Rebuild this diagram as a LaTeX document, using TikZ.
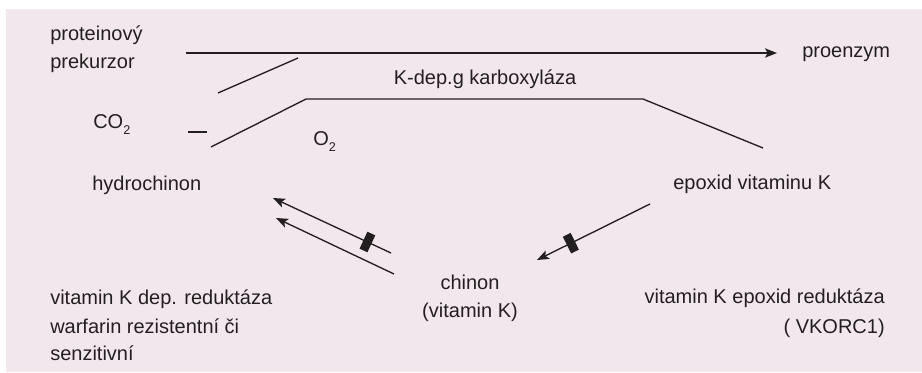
\documentclass[tikz,border=0pt]{standalone}
\usepackage{fontspec}
\setmainfont{Liberation Sans}
\usepackage{xcolor}
\usetikzlibrary{arrows.meta}

\definecolor{bgpink}{RGB}{243,231,238}
\definecolor{ink}{RGB}{35,31,32}
\newcommand{\dvojka}{\raisebox{-4.5pt}{\fontsize{9.5}{9.5}\selectfont 2}}

\begin{document}
\begin{tikzpicture}[x=0.75pt,y=-0.75pt,
    every node/.style={text=ink,inner sep=0pt,font=\fontsize{15}{21.8}\selectfont},
    txt/.style={anchor=base west},
    ln/.style={draw=ink,line width=1pt},
    arr/.style={ln,-{Stealth[length=9pt,width=7pt,inset=2pt]}},
    blok/.style={fill=ink,sloped,minimum width=6.5pt,minimum height=14pt}]
  % background
  \useasboundingbox (0,0) rectangle (922,372);
  \fill[bgpink] (6,9) rectangle (922,372);
  % labels
  \node[txt] (prot) at (50,40) {proteinový};
  \node[txt] (prek) at (50,68) {prekurzor};
  \node[txt] (proenz) at (802,57) {proenzym};
  \node[txt] (co2) at (93,128) {CO\dvojka};
  \node[anchor=base] (karb) at (485,84) {K-dep.g karboxyláza};
  \node[txt] (o2) at (313,145) {O\dvojka};
  \node[txt] (hydro) at (92,190) {hydrochinon};
  \node[txt] (epox) at (673,189) {epoxid vitaminu K};
  \node[anchor=base] (chin) at (470,289) {chinon};
  \node[anchor=base] (vitk) at (470,317) {(vitamin K)};
  \node[txt] (red1) at (50,304) {vitamin K dep. reduktáza};
  \node[txt] (red2) at (50,333) {warfarin rezistentní či};
  \node[txt] (red3) at (50,360) {senzitivní};
  \node[anchor=base east] (vk1) at (885,303) {vitamin K epoxid reduktáza};
  \node[anchor=base east] (vk2) at (885,333) {( VKORC1)};
  % line ends
  \coordinate (pa) at (186,53);
  \coordinate (pb) at (777,53);
  \coordinate (ca) at (218,93);
  \coordinate (cb) at (298,58);
  \coordinate (da) at (188,132);
  \coordinate (db) at (207,132);
  \coordinate (ka) at (211,147);
  \coordinate (kb) at (306,99);
  \coordinate (kc) at (643,99);
  \coordinate (kd) at (763,148);
  \coordinate (la) at (391,253);
  \coordinate (lb) at (273,198);
  \coordinate (lc) at (394,274);
  \coordinate (ld) at (276,218);
  \coordinate (ra) at (650,204);
  \coordinate (rb) at (537,260);
  % lines
  \draw[arr] (pa) -- (pb);
  \draw[ln] (ca) -- (cb);
  \draw[ln] (da) -- (db);
  \draw[ln] (ka) -- (kb) -- (kc) -- (kd);
  % arrows
  \draw[arr] (la) -- node[pos=0.2,blok] {} (lb);
  \draw[arr] (lc) -- (ld);
  \draw[arr] (ra) -- node[pos=0.7,blok] {} (rb);
\end{tikzpicture}
\end{document}
